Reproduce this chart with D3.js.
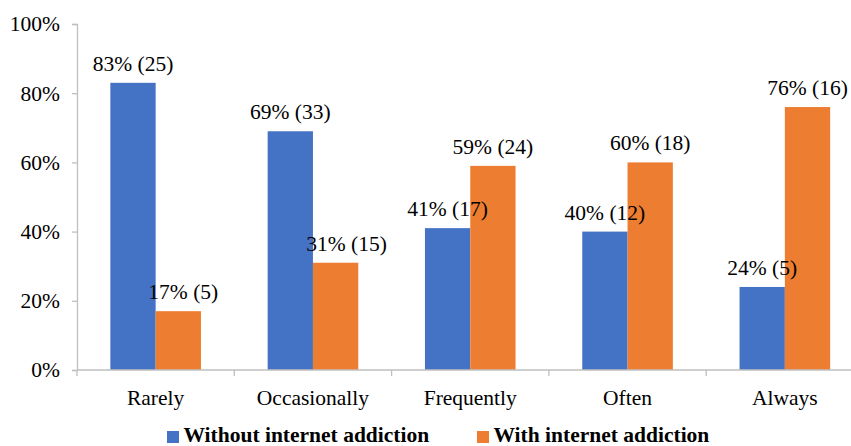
<!DOCTYPE html>
<html>
<head>
<meta charset="utf-8">
<script src="https://cdn.jsdelivr.net/npm/d3@7"></script>
<style>
  html, body { margin: 0; padding: 0; background: #fff; }
  svg { display: block; }
  svg text { font-family: "Liberation Serif", "Times New Roman", Times, serif; }
</style>
</head>
<body>
<svg id="chart" width="851" height="446"></svg>
<script>
const categories = ["Rarely", "Occasionally", "Frequently", "Often", "Always"];
const seriesNames = ["Without internet addiction", "With internet addiction"];
const withoutPct = [0.83, 0.69, 0.41, 0.40, 0.24];
const withoutN   = [25, 33, 17, 12, 5];
const withPct    = [0.17, 0.31, 0.59, 0.60, 0.76];
const withN      = [5, 15, 24, 18, 16];
const yTicks = [0, 0.2, 0.4, 0.6, 0.8, 1.0];

const colors = ["#4472C4", "#ED7D31"];
// small horizontal nudges of data labels (as placed in the original)
const labelNudge = [[0, 0, 0, 0, 0], [5, 11, 0, 0, 0]];

const svg = d3.select("#chart");
const fontSize = 21.5;
const serif = '"Liberation Serif", "Times New Roman", Times, serif';
const plotLeft = 77, plotRight = 863.5, plotTop = 24, plotBottom = 370;

const x = d3.scaleBand().domain(categories).range([plotLeft, plotRight])
  .paddingInner(0.424).paddingOuter(0.212);
const xs = d3.scaleBand().domain([0, 1]).range([0, x.bandwidth()]).padding(0);
const y = d3.scaleLinear().domain([0, 1]).range([plotBottom, plotTop]);

const axisColor = "#BFBFBF";

// Y axis
const yAxis = svg.append("g").attr("transform", `translate(${plotLeft},0)`)
  .call(d3.axisLeft(y).tickValues(yTicks).tickFormat(d3.format(".0%")).tickSize(5).tickPadding(12))
  .attr("font-family", serif);
yAxis.select(".domain").attr("stroke", axisColor).attr("stroke-width", 1.3);
yAxis.selectAll(".tick line").attr("stroke", axisColor).attr("stroke-width", 1.3);
yAxis.selectAll(".tick text").attr("font-size", fontSize).attr("fill", "#000")
  .attr("font-family", serif);

// Bars
const series = [
  { pct: withoutPct, n: withoutN },
  { pct: withPct, n: withN }
];
series.forEach((s, si) => {
  svg.append("g").selectAll("rect").data(categories).join("rect")
    .attr("x", (c) => x(c) + xs(si))
    .attr("width", xs.bandwidth())
    .attr("y", (c, i) => y(s.pct[i]))
    .attr("height", (c, i) => y(0) - y(s.pct[i]))
    .attr("fill", colors[si]);
});

// X axis line and tick marks at category boundaries
const step = x.step();
const boundaries = d3.range(categories.length + 1).map(i => plotLeft + i * step);
svg.append("line").attr("x1", plotLeft).attr("x2", plotRight).attr("y1", plotBottom).attr("y2", plotBottom)
  .attr("stroke", axisColor).attr("stroke-width", 1.3);
svg.append("g").selectAll("line").data(boundaries).join("line")
  .attr("x1", d => d).attr("x2", d => d).attr("y1", plotBottom).attr("y2", plotBottom + 6)
  .attr("stroke", axisColor).attr("stroke-width", 1.3);

// Category labels
svg.append("g").selectAll("text").data(categories).join("text")
  .attr("x", c => x(c) + x.bandwidth() / 2)
  .attr("y", 405)
  .attr("text-anchor", "middle")
  .attr("font-family", serif)
  .attr("font-size", fontSize)
  .attr("fill", "#000")
  .text(c => c);

// Data labels
series.forEach((s, si) => {
  svg.append("g").selectAll("text").data(categories).join("text")
    .attr("x", (c, i) => x(c) + xs(si) + xs.bandwidth() / 2 + labelNudge[si][i])
    .attr("y", (c, i) => y(s.pct[i]) - 12)
    .attr("text-anchor", "middle")
    .attr("font-family", serif)
    .attr("font-size", fontSize)
    .attr("fill", "#000")
    .text((c, i) => `${Math.round(s.pct[i] * 100)}% (${s.n[i]})`);
});

// Legend
const legendX = [167, 477];
const leg = svg.append("g").selectAll("g").data(seriesNames).join("g")
  .attr("transform", (d, i) => `translate(${legendX[i]},0)`);
leg.append("rect").attr("x", 0).attr("y", 431).attr("width", 12).attr("height", 12)
  .attr("fill", (d, i) => colors[i]);
leg.append("text").attr("x", 16.5).attr("y", 442)
  .attr("font-family", serif)
  .attr("font-size", fontSize).attr("font-weight", "bold").attr("fill", "#000")
  .text(d => d);
</script>
</body>
</html>
